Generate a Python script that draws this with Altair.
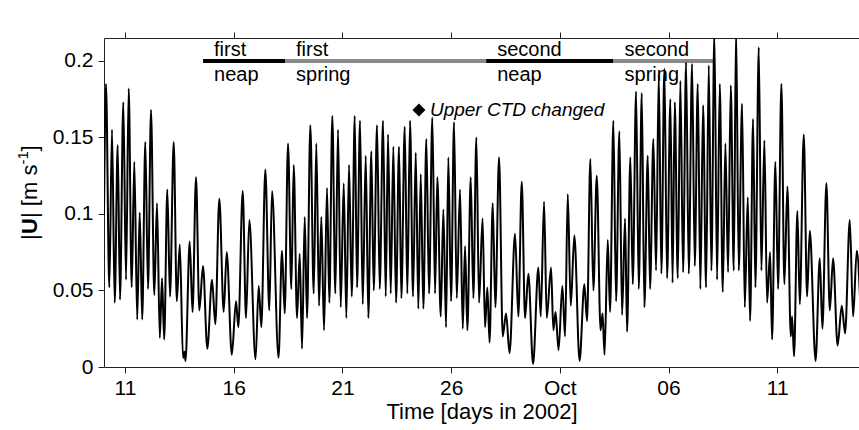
import altair as alt
import pandas as pd

# ---------------- data ----------------
# time in "day of September 2002" (Oct 1 = 31), speed |U| in m/s
day = [10.034, 10.126, 10.278, 10.402, 10.526, 10.664, 10.770, 10.922, 11.046, 11.170,
       11.308, 11.428, 11.561, 11.676, 11.791, 11.934, 12.058, 12.196, 12.348, 12.472,
       12.601, 12.702, 12.803, 12.946, 13.070, 13.240, 13.383, 13.521, 13.668, 13.737,
       13.783, 13.976, 14.105, 14.266, 14.418, 14.588, 14.786, 15.002, 15.154, 15.338,
       15.540, 15.678, 15.913, 16.106, 16.212, 16.414, 16.566, 16.718, 17.003, 17.150,
       17.270, 17.454, 17.638, 17.762, 18.061, 18.222, 18.346, 18.498, 18.650, 18.760,
       18.912, 19.036, 19.142, 19.266, 19.372, 19.524, 19.680, 19.800, 19.924, 20.030,
       20.154, 20.292, 20.398, 20.536, 20.674, 20.798, 20.922, 21.060, 21.180, 21.304,
       21.428, 21.566, 21.672, 21.810, 21.934, 22.072, 22.192, 22.330, 22.440, 22.592,
       22.716, 22.868, 22.992, 23.098, 23.222, 23.342, 23.466, 23.604, 23.710, 23.866,
       23.986, 24.110, 24.248, 24.372, 24.492, 24.602, 24.722, 24.860, 24.984, 25.136,
       25.260, 25.366, 25.522, 25.642, 25.766, 25.872, 25.996, 26.134, 26.258, 26.410,
       26.534, 26.640, 26.746, 26.902, 27.022, 27.160, 27.284, 27.445, 27.560, 27.666,
       27.767, 27.914, 28.034, 28.204, 28.374, 28.526, 28.687, 28.940, 29.092, 29.248,
       29.400, 29.552, 29.768, 30.012, 30.122, 30.274, 30.398, 30.596, 30.702, 30.803,
       30.941, 31.116, 31.240, 31.364, 31.502, 31.668, 31.907, 32.128, 32.252, 32.404,
       32.542, 32.698, 32.873, 32.965, 33.057, 33.204, 33.310, 33.462, 33.586, 33.738,
       33.862, 34.000, 34.092, 34.244, 34.354, 34.506, 34.630, 34.768, 34.888, 35.044,
       35.150, 35.302, 35.426, 35.550, 35.670, 35.808, 35.932, 36.084, 36.185, 36.286,
       36.424, 36.544, 36.668, 36.806, 36.930, 37.082, 37.206, 37.344, 37.464, 37.588,
       37.726, 37.850, 37.970, 38.108, 38.232, 38.356, 38.494, 38.614, 38.738, 38.862,
       39.000, 39.106, 39.230, 39.382, 39.506, 39.644, 39.750, 39.888, 39.994, 40.150,
       40.270, 40.408, 40.532, 40.670, 40.762, 40.914, 41.038, 41.190, 41.328, 41.466,
       41.622, 41.682, 41.774, 41.926, 42.036, 42.220, 42.372, 42.496, 42.763, 42.956,
       43.076, 43.260, 43.416, 43.568, 43.775, 43.968, 44.120, 44.336, 44.488, 44.658,
       44.810]

speed = [0.100, 0.185, 0.052, 0.155, 0.042, 0.145, 0.044, 0.173, 0.057, 0.182,
         0.052, 0.134, 0.031, 0.101, 0.031, 0.147, 0.051, 0.168, 0.047, 0.107,
         0.019, 0.058, 0.018, 0.116, 0.046, 0.147, 0.043, 0.080, 0.006, 0.010,
         0.004, 0.082, 0.036, 0.124, 0.037, 0.066, 0.012, 0.057, 0.028, 0.110,
         0.036, 0.075, 0.008, 0.043, 0.026, 0.115, 0.032, 0.096, 0.005, 0.053,
         0.026, 0.129, 0.037, 0.115, 0.006, 0.076, 0.035, 0.146, 0.051, 0.132,
         0.032, 0.074, 0.012, 0.098, 0.032, 0.158, 0.048, 0.146, 0.040, 0.098,
         0.024, 0.117, 0.042, 0.164, 0.048, 0.155, 0.039, 0.120, 0.032, 0.132,
         0.046, 0.164, 0.052, 0.161, 0.041, 0.138, 0.032, 0.141, 0.050, 0.158,
         0.051, 0.161, 0.046, 0.152, 0.048, 0.144, 0.042, 0.144, 0.045, 0.157,
         0.048, 0.161, 0.046, 0.140, 0.038, 0.126, 0.038, 0.149, 0.048, 0.163,
         0.048, 0.124, 0.033, 0.103, 0.026, 0.137, 0.043, 0.160, 0.045, 0.116,
         0.025, 0.079, 0.024, 0.124, 0.045, 0.150, 0.042, 0.097, 0.026, 0.052,
         0.016, 0.107, 0.039, 0.137, 0.020, 0.035, 0.009, 0.087, 0.033, 0.121,
         0.032, 0.061, 0.002, 0.065, 0.033, 0.108, 0.032, 0.065, 0.024, 0.036,
         0.011, 0.053, 0.020, 0.113, 0.040, 0.086, 0.004, 0.054, 0.030, 0.136,
         0.050, 0.125, 0.024, 0.035, 0.008, 0.083, 0.036, 0.161, 0.043, 0.154,
         0.034, 0.097, 0.023, 0.137, 0.054, 0.180, 0.051, 0.179, 0.039, 0.138,
         0.051, 0.149, 0.063, 0.191, 0.061, 0.195, 0.058, 0.175, 0.055, 0.173,
         0.058, 0.187, 0.062, 0.199, 0.061, 0.198, 0.066, 0.185, 0.051, 0.171,
         0.052, 0.197, 0.063, 0.218, 0.057, 0.185, 0.049, 0.146, 0.062, 0.184,
         0.063, 0.221, 0.063, 0.172, 0.039, 0.111, 0.030, 0.162, 0.052, 0.209,
         0.063, 0.148, 0.042, 0.075, 0.018, 0.134, 0.051, 0.185, 0.054, 0.118,
         0.020, 0.033, 0.007, 0.102, 0.041, 0.152, 0.046, 0.089, 0.004, 0.071,
         0.025, 0.120, 0.037, 0.071, 0.014, 0.040, 0.022, 0.096, 0.033, 0.076,
         0.045]

# spring / neap periods
phase_start = [14.59, 18.36, 27.61, 33.47]
phase_end = [18.36, 27.61, 33.47, 38.07]
phase_word1 = ["first", "first", "second", "second"]
phase_word2 = ["neap", "spring", "neap", "spring"]
phase_level = [0.2, 0.2, 0.2, 0.2]

# CTD annotation
ctd_day = [24.52]
ctd_speed = [0.168]
ctd_text = ["Upper CTD changed"]

# axes
x_domain = [10.034, 44.76]
y_domain = [0, 0.215]
x_tick_values = [11, 16, 21, 26, 31, 36, 41]
x_tick_labels = ["11", "16", "21", "26", "Oct", "06", "11"]
y_tick_values = [0, 0.05, 0.1, 0.15, 0.2]

# ---------------- layout ----------------
PLOT_LEFT = 104
PLOT_TOP = 38
PLOT_W = 755
PLOT_H = 329
FONT = "Liberation Sans"
FS_TICK = 21
FS_TITLE = 22
FS_NOTE = 20

series = pd.DataFrame({"day": day, "speed": speed})
phases = pd.DataFrame({"start": phase_start, "end": phase_end,
                       "w1": phase_word1, "w2": phase_word2,
                       "kind": phase_word2, "level": phase_level})
ctd = pd.DataFrame({"day": ctd_day, "speed": ctd_speed, "label": ctd_text})

label_expr = "'' + datum.value"
for v, lab in reversed(list(zip(x_tick_values, x_tick_labels))):
    label_expr = f"datum.value == {v} ? '{lab}' : ({label_expr})"

xs = alt.Scale(domain=x_domain, nice=False, zero=False)
ys = alt.Scale(domain=y_domain, nice=False, zero=False)

AX = "#222222"
bottom_axis = alt.Axis(values=x_tick_values, labelExpr=label_expr, title="Time [days in 2002]",
                       orient="bottom", grid=False, tickSize=6, tickColor=AX,
                       domainColor=AX, labelFont=FONT, labelFontSize=FS_TICK, labelColor="black",
                       labelPadding=4, titleFont=FONT, titleFontSize=FS_TITLE, titleFontWeight="normal",
                       titleColor="black", titlePadding=3, labelFlush=False)
left_axis = alt.Axis(values=y_tick_values, format="~g", title=None, orient="left",
                     grid=False, tickSize=6, tickColor=AX, domainColor=AX,
                     labelFont=FONT, labelFontSize=FS_TICK, labelColor="black", labelPadding=5)
top_axis = alt.Axis(values=x_tick_values, labels=False, title=None, orient="top",
                    grid=False, tickSize=6, tickColor=AX, domainColor=AX)

bars = alt.Chart(phases).mark_rule(strokeWidth=4).encode(
    x=alt.X("start:Q", scale=xs, axis=None),
    x2="end:Q",
    y=alt.Y("level:Q", scale=ys, axis=None),
    color=alt.Color("kind:N", scale=alt.Scale(domain=["neap", "spring"], range=["#000000", "#8a8a8a"]),
                    legend=None),
)
word1 = alt.Chart(phases).mark_text(align="left", baseline="alphabetic", dx=11, dy=-5,
                                    font=FONT, fontSize=FS_NOTE, color="black").encode(
    x=alt.X("start:Q", scale=xs, axis=None), y=alt.Y("level:Q", scale=ys, axis=None), text="w1:N")
word2 = alt.Chart(phases).mark_text(align="left", baseline="alphabetic", dx=11, dy=20,
                                    font=FONT, fontSize=FS_NOTE, color="black").encode(
    x=alt.X("start:Q", scale=xs, axis=None), y=alt.Y("level:Q", scale=ys, axis=None), text="w2:N")

line = alt.Chart(series).mark_line(color="black", strokeWidth=2, interpolate="monotone", clip=True).encode(
    x=alt.X("day:Q", scale=xs, axis=bottom_axis),
    y=alt.Y("speed:Q", scale=ys, axis=left_axis),
)
top = alt.Chart(series).mark_line(opacity=0).encode(
    x=alt.X("day:Q", scale=xs, axis=top_axis),
    y=alt.Y("speed:Q", scale=ys, axis=None),
)

diamond = alt.Chart(ctd).mark_point(shape="diamond", filled=True, size=170, color="black", opacity=1).encode(
    x=alt.X("day:Q", scale=xs, axis=None), y=alt.Y("speed:Q", scale=ys, axis=None))
ctd_label = alt.Chart(ctd).mark_text(align="left", baseline="middle", dx=11, font=FONT, fontSize=19,
                                     fontStyle="italic", color="black").encode(
    x=alt.X("day:Q", scale=xs, axis=None), y=alt.Y("speed:Q", scale=ys, axis=None), text="label:N")

# y axis title built from pieces: |U| [m s^-1] with bold U and superscript
one = alt.Data(values=[{}])
ybase_x = 37 - PLOT_LEFT
ystart = 240 - PLOT_TOP
pieces = []
cur = ystart
for txt, w, bold, size, dxo in [("|", 6.0, False, FS_TITLE, 0), ("U", 16.0, True, FS_TITLE, 0),
                                ("| [m s", 53.4, False, FS_TITLE, 0), ("-1", 13.0, False, 15, -9),
                                ("]", 6.1, False, FS_TITLE, 0)]:
    pieces.append(alt.Chart(one).mark_text(text=txt, angle=270, align="left", baseline="alphabetic",
                                           font=FONT, fontSize=size,
                                           fontWeight="bold" if bold else "normal", color="black").encode(
        x=alt.value(ybase_x + dxo), y=alt.value(cur)))
    cur -= w

chart = alt.layer(bars, word1, word2, line, top, diamond, ctd_label, *pieces).resolve_axis(
    x="independent", y="independent"
).properties(
    width=PLOT_W, height=PLOT_H,
    padding={"left": PLOT_LEFT, "top": PLOT_TOP, "right": 0, "bottom": 430 - PLOT_TOP - PLOT_H},
    autosize=alt.AutoSizeParams(type="none"),
    background="white",
).configure_view(stroke=None)

chart.save("out.html", embed_options={"renderer": "svg", "actions": False})
